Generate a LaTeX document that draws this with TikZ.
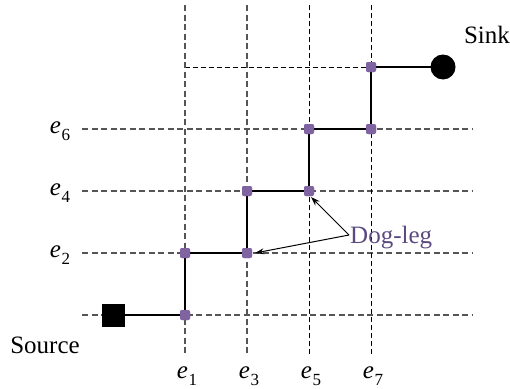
\documentclass[tikz,border=0pt]{standalone}
\usepackage{fontspec}
\setmainfont{Liberation Serif}
\usetikzlibrary{arrows.meta}
\definecolor{pin}{HTML}{8064A2}
\definecolor{dogtext}{HTML}{5B4A80}
\definecolor{griddark}{HTML}{555555}
\newcommand{\elab}[1]{{\itshape e}\kern0.5pt\raisebox{-0.28em}{\fontsize{17}{18}\selectfont #1}}
\begin{document}
\begin{tikzpicture}[x=1pt,y=-1pt,
  gridg/.style={draw=griddark,line width=1.2pt,dash pattern=on 6pt off 3.5pt},
  gridb/.style={draw=black,line width=0.9pt,dash pattern=on 5pt off 3pt},
  wire/.style={draw=black,line width=2pt},
  pinbox/.style={fill=pin,draw=none,rounded corners=2pt,minimum size=10pt,inner sep=0pt},
  lab/.style={font=\fontsize{25}{30}\selectfont,inner sep=0pt},
  arr/.style={draw=black,line width=1pt,-{Stealth[length=9pt,width=6pt]}}]
\useasboundingbox (0,0) rectangle (510,388);
% grid coordinates
\coordinate (h1l) at (82,315); \coordinate (h1r) at (472,315);
\coordinate (h2l) at (82,253); \coordinate (h2r) at (472,253);
\coordinate (h3l) at (82,191); \coordinate (h3r) at (472,191);
\coordinate (h4l) at (82,129); \coordinate (h4r) at (472,129);
\coordinate (h5l) at (185,67); \coordinate (h5r) at (371,67);
\coordinate (v1t) at (185,5); \coordinate (v1b) at (185,355);
\coordinate (v3t) at (247,5); \coordinate (v3b) at (247,355);
\coordinate (v5t) at (309,5); \coordinate (v5b) at (309,355);
\coordinate (v7t) at (371,5); \coordinate (v7b) at (371,355);
\draw[gridg] (h1l) -- (h1r);
\draw[gridg] (h2l) -- (h2r);
\draw[gridg] (h3l) -- (h3r);
\draw[gridg] (h4l) -- (h4r);
\draw[gridb] (h5l) -- (h5r);
\draw[gridg] (v1t) -- (v1b);
\draw[gridg] (v3t) -- (v3b);
\draw[gridb] (v5t) -- (v5b);
\draw[gridb] (v7t) -- (v7b);
% terminals
\node[fill=black,minimum size=23pt,inner sep=0pt] (src) at (113,315) {};
\node[fill=black,circle,minimum size=25pt,inner sep=0pt] (snk) at (443,67) {};
% pins
\node[pinbox] (p1) at (185,315) {};
\node[pinbox] (p2) at (185,253) {};
\node[pinbox] (p3) at (247,253) {};
\node[pinbox] (p4) at (247,191) {};
\node[pinbox] (p5) at (309,191) {};
\node[pinbox] (p6) at (309,129) {};
\node[pinbox] (p7) at (371,129) {};
\node[pinbox] (p8) at (371,67) {};
\draw[wire] (src.center) -- (p1.center) -- (p2.center) -- (p3.center) -- (p4.center) -- (p5.center) -- (p6.center) -- (p7.center) -- (p8.center) -- (snk.center);
\foreach \n in {p1,p2,p3,p4,p5,p6,p7,p8} {\node[pinbox] at (\n) {};}
% labels
\node[lab] (sinklab) at (487,35) {Sink};
\node[lab] (srclab) at (45,345) {Source};
\node[lab] (l6) at (60,131) {\elab{6}};
\node[lab] (l4) at (60,193) {\elab{4}};
\node[lab] (l2) at (60,255) {\elab{2}};
\node[lab] (b1) at (187,376) {\elab{1}};
\node[lab] (b3) at (249,376) {\elab{3}};
\node[lab] (b5) at (311,376) {\elab{5}};
\node[lab] (b7) at (373,376) {\elab{7}};
\node[lab,text=dogtext,anchor=west] (dog) at (350,238) {Dog-leg};
\coordinate (dogo) at (349,235);
\coordinate (t1) at (311,197);
\coordinate (t2) at (255,253);
\draw[arr] (dogo) -- (t1);
\draw[arr] (dogo) -- (t2);
\end{tikzpicture}
\end{document}
